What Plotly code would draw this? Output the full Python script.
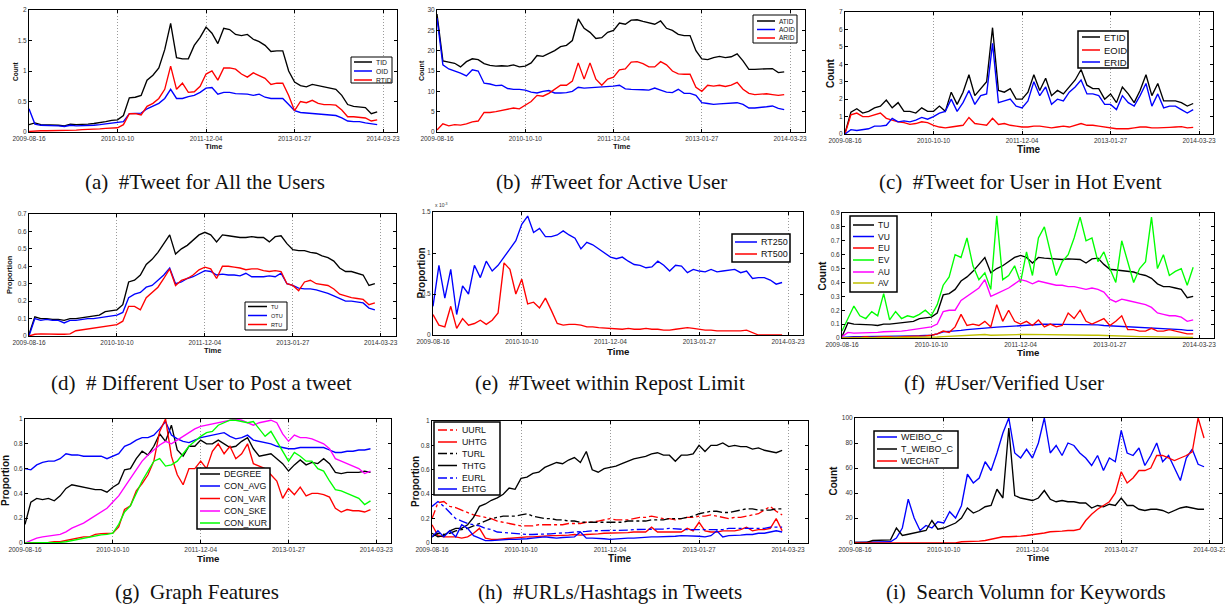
import plotly.graph_objects as go
import pandas as pd

W, H = 1225, 606
START = pd.Timestamp("2009-08-16")
STEP_DAYS = 28
TICKS = ["2009-08-16", "2010-10-10", "2011-12-04", "2013-01-27", "2014-03-23"]

# ---------------- data (sampled every 28 days from 2009-08-16) ----------------
a_TID = [0.12,0.15,0.12,0.12,0.11,0.11,0.10,0.13,0.12,0.12,
         0.13,0.14,0.15,0.17,0.19,0.20,0.27,0.56,0.57,0.60,
         0.85,0.93,1.05,1.35,1.78,1.22,1.20,1.20,1.42,1.55,
         1.72,1.62,1.45,1.70,1.68,1.60,1.58,1.60,1.52,1.48,
         1.42,1.32,1.33,1.33,1.00,0.82,0.76,0.74,0.78,0.76,
         0.74,0.73,0.70,0.60,0.45,0.42,0.41,0.40,0.30,0.33]
a_OID = [0.38,0.13,0.11,0.11,0.10,0.10,0.09,0.11,0.10,0.10,
         0.11,0.11,0.12,0.13,0.14,0.15,0.17,0.30,0.30,0.31,
         0.38,0.42,0.47,0.55,0.70,0.55,0.55,0.58,0.60,0.65,
         0.72,0.73,0.62,0.65,0.65,0.63,0.63,0.62,0.60,0.62,
         0.57,0.55,0.55,0.55,0.45,0.35,0.32,0.31,0.30,0.30,
         0.29,0.28,0.27,0.23,0.18,0.17,0.17,0.15,0.13,0.12]
a_RTID = [0.01,0.02,0.02,0.02,0.02,0.02,0.03,0.03,0.03,0.04,
          0.04,0.05,0.05,0.06,0.06,0.07,0.12,0.30,0.30,0.28,
          0.42,0.47,0.55,0.70,1.08,0.70,0.80,0.65,0.66,0.75,
          0.95,1.00,0.85,1.05,1.05,1.03,0.95,0.90,0.97,0.93,
          0.88,0.78,0.80,0.80,0.60,0.35,0.50,0.48,0.52,0.47,
          0.45,0.45,0.44,0.36,0.25,0.25,0.24,0.23,0.18,0.20]

b_ATID = [29.0,17.5,17.2,16.9,16.0,17.3,18.0,17.8,16.8,16.4,
          16.2,16.3,16.2,16.5,16.0,16.2,17.0,18.8,18.6,19.3,
          20.0,21.0,21.3,22.5,27.8,25.5,24.5,23.0,23.2,24.5,
          25.0,26.8,26.5,27.5,27.6,27.2,26.8,26.5,27.3,25.5,
          25.0,24.0,23.7,23.7,20.0,18.0,17.8,18.3,18.6,18.3,
          18.5,19.2,17.5,15.4,15.4,15.5,15.5,15.6,14.6,14.8]
b_AOID = [28.0,16.5,15.5,15.0,14.5,13.8,15.3,15.0,12.0,11.8,
          11.4,11.5,10.7,10.5,10.5,10.3,9.8,9.6,10.0,10.2,
          9.6,9.6,9.7,10.0,11.0,10.8,10.9,11.0,11.0,11.1,
          11.3,11.5,10.6,10.5,10.5,10.4,10.3,10.8,10.3,9.8,
          9.7,10.5,9.5,9.5,9.0,7.2,7.0,6.8,6.9,7.0,
          7.1,7.2,6.8,5.9,5.9,6.0,6.2,6.4,5.8,5.5]
b_ARID = [0.5,2.0,1.5,1.8,1.7,2.0,2.5,2.7,4.8,4.8,
          5.0,5.3,5.7,5.9,5.7,6.5,7.5,9.0,8.8,9.5,
          10.5,11.5,11.5,12.5,17.0,13.0,17.0,13.0,11.5,13.0,
          13.5,15.3,15.5,17.2,17.3,16.8,16.0,16.0,17.3,16.5,
          15.0,14.3,14.2,14.2,11.0,10.0,11.5,11.3,11.5,11.2,
          11.5,12.2,10.5,9.5,9.2,9.3,9.4,9.2,9.0,9.2]

c_ETID = [0.05,1.25,1.45,1.2,1.3,1.5,1.6,1.95,1.5,1.8,
          1.3,1.3,1.2,1.5,1.3,1.3,1.6,1.3,2.4,1.7,
          2.4,3.4,2.2,2.6,3.0,6.1,2.5,2.4,2.6,2.0,
          2.0,2.4,3.4,2.5,3.2,2.2,2.5,2.3,2.7,3.1,
          3.7,2.8,2.6,2.6,2.0,2.3,1.8,2.7,2.3,1.8,
          2.5,3.4,2.2,2.9,1.9,1.9,1.9,1.8,1.6,1.75]
c_EOID = [0.0,1.1,1.2,1.0,1.0,1.1,1.2,0.9,0.8,0.7,
          0.65,0.55,0.6,0.7,0.65,0.5,0.4,0.35,0.4,0.45,
          0.5,0.95,0.6,0.55,0.5,0.9,0.55,0.6,0.5,0.45,
          0.4,0.4,0.45,0.45,0.4,0.35,0.4,0.45,0.4,0.5,
          0.6,0.5,0.5,0.45,0.4,0.35,0.3,0.3,0.3,0.35,
          0.4,0.4,0.35,0.35,0.35,0.38,0.4,0.42,0.35,0.38]
c_ERID = [0.0,0.25,0.2,0.25,0.3,0.45,0.45,0.5,0.9,0.7,
          0.75,0.7,0.8,0.95,0.85,1.0,1.2,1.3,2.0,1.3,
          1.8,2.5,1.7,2.2,2.3,5.2,1.8,1.9,2.0,1.6,
          1.5,1.9,3.0,2.2,2.7,1.7,2.0,1.9,2.4,2.7,
          3.1,2.3,2.3,2.2,1.7,1.7,1.4,2.2,1.8,1.6,
          2.2,2.9,1.6,2.3,1.5,1.6,1.6,1.4,1.2,1.4]

d_TU = [0.01,0.11,0.10,0.10,0.095,0.095,0.09,0.10,0.10,0.105,
        0.11,0.115,0.12,0.14,0.145,0.15,0.18,0.31,0.32,0.35,
        0.41,0.44,0.48,0.53,0.58,0.47,0.50,0.52,0.55,0.58,
        0.595,0.58,0.54,0.58,0.575,0.57,0.565,0.565,0.57,0.565,
        0.565,0.54,0.57,0.575,0.53,0.495,0.49,0.49,0.48,0.475,
        0.46,0.45,0.43,0.39,0.37,0.37,0.36,0.35,0.29,0.30]
d_OTU = [0.0,0.10,0.09,0.095,0.09,0.09,0.075,0.09,0.09,0.095,
         0.10,0.10,0.105,0.11,0.115,0.12,0.135,0.22,0.24,0.25,
         0.28,0.29,0.32,0.35,0.39,0.30,0.31,0.33,0.34,0.36,
         0.375,0.37,0.35,0.355,0.35,0.35,0.345,0.36,0.34,0.34,
         0.34,0.345,0.34,0.36,0.30,0.29,0.275,0.27,0.27,0.265,
         0.255,0.245,0.23,0.215,0.20,0.20,0.195,0.19,0.16,0.15]
d_RTU = [0.0,0.01,0.012,0.01,0.01,0.01,0.01,0.012,0.03,0.035,
         0.04,0.045,0.05,0.055,0.06,0.065,0.085,0.17,0.17,0.15,
         0.22,0.25,0.28,0.33,0.385,0.29,0.32,0.33,0.35,0.38,
         0.395,0.385,0.33,0.40,0.40,0.395,0.39,0.38,0.385,0.385,
         0.375,0.37,0.375,0.37,0.30,0.29,0.26,0.31,0.32,0.30,
         0.295,0.29,0.27,0.24,0.23,0.22,0.215,0.21,0.18,0.19]

e_RT250 = [0.35,0.85,0.45,0.8,0.25,0.6,0.5,0.85,0.7,0.9,
           0.78,0.85,0.95,1.05,1.15,1.35,1.45,1.25,1.3,1.2,
           1.2,1.22,1.27,1.22,1.18,1.05,1.13,1.1,1.05,1.0,
           0.95,0.93,0.95,0.9,0.86,0.85,0.82,0.83,0.9,0.85,
           0.78,0.85,0.84,0.76,0.8,0.78,0.77,0.8,0.77,0.78,
           0.79,0.8,0.76,0.78,0.69,0.7,0.7,0.67,0.62,0.64]
e_RT500 = [0.25,0.12,0.1,0.35,0.08,0.2,0.12,0.14,0.18,0.13,
           0.18,0.27,0.88,0.8,0.5,0.68,0.38,0.4,0.33,0.45,
           0.3,0.14,0.12,0.13,0.13,0.12,0.1,0.1,0.09,0.085,
           0.08,0.07,0.07,0.08,0.07,0.07,0.08,0.07,0.07,0.06,
           0.06,0.07,0.08,0.09,0.08,0.07,0.06,0.06,0.05,0.05,
           0.05,0.05,0.05,0.06,0.03,0.0,0.0,0.0,0.0,0.0]

f_TU = [0.01,0.11,0.10,0.10,0.095,0.095,0.09,0.10,0.10,0.105,
        0.11,0.115,0.12,0.14,0.145,0.15,0.18,0.31,0.32,0.35,
        0.41,0.44,0.48,0.53,0.58,0.47,0.50,0.52,0.55,0.58,
        0.595,0.58,0.54,0.58,0.575,0.57,0.565,0.565,0.57,0.565,
        0.565,0.54,0.57,0.575,0.53,0.495,0.49,0.49,0.48,0.475,
        0.46,0.45,0.43,0.39,0.37,0.37,0.36,0.35,0.29,0.30]
f_VU = [0.005,0.01,0.01,0.01,0.01,0.012,0.012,0.012,0.013,0.013,
        0.014,0.014,0.015,0.016,0.017,0.02,0.03,0.045,0.048,0.05,
        0.055,0.06,0.065,0.07,0.075,0.075,0.078,0.08,0.082,0.085,
        0.09,0.092,0.095,0.097,0.1,0.1,0.1,0.1,0.1,0.1,
        0.1,0.098,0.097,0.095,0.09,0.088,0.085,0.083,0.08,0.078,
        0.075,0.073,0.07,0.068,0.065,0.063,0.062,0.06,0.055,0.055]
f_EU = [0.0,0.005,0.005,0.005,0.01,0.005,0.01,0.01,0.01,0.005,
        0.01,0.01,0.01,0.01,0.015,0.02,0.03,0.05,0.04,0.08,
        0.17,0.09,0.1,0.09,0.12,0.08,0.24,0.12,0.2,0.12,
        0.1,0.12,0.09,0.13,0.08,0.1,0.08,0.09,0.18,0.14,
        0.2,0.12,0.1,0.12,0.14,0.09,0.12,0.16,0.06,0.06,
        0.05,0.05,0.07,0.05,0.05,0.06,0.05,0.04,0.03,0.03]
f_EV = [0.05,0.14,0.23,0.16,0.14,0.19,0.16,0.32,0.13,0.19,
        0.14,0.16,0.15,0.17,0.2,0.16,0.24,0.38,0.44,0.6,
        0.58,0.72,0.52,0.42,0.47,0.35,0.88,0.42,0.45,0.52,
        0.4,0.62,0.45,0.72,0.8,0.62,0.45,0.55,0.6,0.72,
        0.87,0.7,0.72,0.55,0.62,0.5,0.4,0.7,0.55,0.4,
        0.5,0.55,0.87,0.5,0.6,0.45,0.48,0.5,0.38,0.51]
f_AU = [0.01,0.04,0.035,0.035,0.035,0.04,0.04,0.045,0.045,0.05,
        0.05,0.055,0.06,0.065,0.07,0.08,0.1,0.19,0.2,0.2,
        0.27,0.3,0.33,0.36,0.42,0.3,0.32,0.34,0.36,0.39,
        0.42,0.41,0.39,0.41,0.4,0.39,0.38,0.38,0.37,0.37,
        0.36,0.35,0.36,0.35,0.33,0.28,0.26,0.28,0.27,0.26,
        0.25,0.24,0.22,0.18,0.17,0.16,0.16,0.15,0.12,0.13]
f_AV = [0.0,0.002,0.002,0.002,0.003,0.003,0.003,0.003,0.003,0.003,
        0.004,0.004,0.004,0.004,0.005,0.005,0.007,0.01,0.012,0.013,
        0.015,0.017,0.018,0.02,0.025,0.02,0.02,0.021,0.022,0.023,
        0.025,0.026,0.025,0.026,0.025,0.025,0.024,0.024,0.023,0.022,
        0.022,0.021,0.02,0.02,0.018,0.015,0.013,0.012,0.012,0.011,
        0.01,0.01,0.009,0.008,0.008,0.007,0.007,0.006,0.005,0.005]

g_DEGREE = [0.15,0.33,0.36,0.35,0.36,0.34,0.38,0.44,0.47,0.46,
            0.45,0.44,0.43,0.43,0.41,0.45,0.48,0.59,0.6,0.68,
            0.74,0.71,0.78,0.88,0.82,0.95,0.75,0.7,0.78,0.78,
            0.83,0.8,0.8,0.83,0.8,0.77,0.78,0.82,0.85,0.76,
            0.7,0.71,0.72,0.68,0.64,0.58,0.63,0.67,0.63,0.65,
            0.64,0.68,0.64,0.57,0.56,0.57,0.57,0.57,0.58,0.57]
g_CON_AVG = [0.6,0.59,0.63,0.65,0.66,0.66,0.68,0.72,0.71,0.71,
             0.7,0.7,0.7,0.7,0.68,0.7,0.72,0.78,0.8,0.83,
             0.85,0.85,0.87,0.92,0.98,0.87,0.84,0.82,0.81,0.83,
             0.85,0.86,0.87,0.88,0.89,0.86,0.84,0.85,0.87,0.83,
             0.82,0.81,0.8,0.78,0.77,0.76,0.76,0.77,0.77,0.77,
             0.77,0.77,0.75,0.73,0.73,0.74,0.74,0.75,0.75,0.76]
g_CON_VAR = [0.0,0.0,0.0,0.005,0.005,0.01,0.01,0.02,0.03,0.04,
             0.05,0.05,0.07,0.075,0.075,0.08,0.13,0.27,0.3,0.42,
             0.48,0.55,0.66,0.9,1.0,0.7,0.55,0.47,0.6,0.6,
             0.66,0.6,0.74,0.8,0.72,0.78,0.68,0.72,0.8,0.64,
             0.62,0.6,0.55,0.5,0.36,0.44,0.39,0.45,0.38,0.4,
             0.4,0.39,0.37,0.28,0.25,0.27,0.26,0.26,0.25,0.27]
g_CON_SKE = [0.0,0.02,0.04,0.05,0.055,0.06,0.07,0.09,0.12,0.14,
             0.16,0.19,0.22,0.25,0.28,0.33,0.38,0.45,0.52,0.6,
             0.66,0.71,0.75,0.79,0.82,0.8,0.83,0.86,0.89,0.92,
             0.94,0.95,0.96,0.97,0.98,0.99,1.0,0.99,0.97,0.95,
             0.97,0.98,0.99,0.97,0.88,0.82,0.87,0.85,0.85,0.84,
             0.82,0.8,0.76,0.68,0.66,0.64,0.62,0.6,0.56,0.58]
g_CON_KUR = [0.0,0.0,0.0,0.0,0.0,0.005,0.005,0.01,0.02,0.03,
             0.04,0.05,0.06,0.065,0.07,0.08,0.15,0.25,0.3,0.4,
             0.5,0.58,0.66,0.68,0.62,0.63,0.66,0.72,0.78,0.82,
             0.86,0.89,0.9,0.95,0.97,0.99,0.99,0.98,0.97,0.98,
             0.92,0.86,0.9,0.82,0.74,0.66,0.73,0.7,0.66,0.66,
             0.6,0.58,0.5,0.43,0.42,0.4,0.38,0.36,0.31,0.34]

h_UURL = [0.2,0.33,0.34,0.3,0.29,0.27,0.25,0.23,0.22,0.21,
          0.2,0.18,0.17,0.16,0.15,0.14,0.14,0.14,0.15,0.15,
          0.15,0.15,0.15,0.16,0.16,0.16,0.17,0.17,0.18,0.19,
          0.2,0.19,0.19,0.19,0.2,0.21,0.21,0.22,0.21,0.2,
          0.2,0.19,0.2,0.21,0.21,0.22,0.22,0.23,0.22,0.21,
          0.2,0.21,0.21,0.22,0.23,0.24,0.27,0.3,0.26,0.23]
h_UHTG = [0.15,0.06,0.05,0.05,0.05,0.04,0.05,0.08,0.12,0.04,
          0.03,0.03,0.035,0.04,0.045,0.05,0.05,0.05,0.055,0.06,
          0.06,0.06,0.06,0.065,0.07,0.065,0.07,0.07,0.075,0.08,
          0.08,0.085,0.08,0.085,0.09,0.09,0.09,0.13,0.09,0.09,
          0.09,0.09,0.09,0.12,0.1,0.17,0.1,0.09,0.09,0.1,
          0.1,0.1,0.11,0.13,0.1,0.11,0.11,0.12,0.2,0.1]
h_TURL = [0.05,0.08,0.07,0.08,0.1,0.11,0.12,0.14,0.16,0.18,
          0.2,0.21,0.22,0.22,0.22,0.23,0.24,0.22,0.21,0.2,
          0.2,0.19,0.19,0.18,0.18,0.17,0.17,0.17,0.17,0.17,
          0.17,0.17,0.17,0.18,0.18,0.18,0.18,0.19,0.19,0.19,
          0.2,0.2,0.2,0.21,0.22,0.24,0.25,0.26,0.26,0.25,
          0.25,0.26,0.27,0.28,0.28,0.27,0.27,0.27,0.28,0.28]
h_THTG = [0.08,0.05,0.06,0.1,0.12,0.12,0.15,0.21,0.3,0.32,
          0.35,0.37,0.4,0.45,0.44,0.53,0.54,0.57,0.58,0.62,
          0.64,0.66,0.65,0.68,0.7,0.66,0.75,0.6,0.58,0.61,
          0.62,0.63,0.65,0.67,0.69,0.7,0.71,0.73,0.74,0.72,
          0.72,0.67,0.72,0.72,0.73,0.8,0.75,0.8,0.8,0.82,
          0.79,0.8,0.79,0.79,0.77,0.78,0.76,0.75,0.74,0.76]
h_EURL = [0.3,0.34,0.3,0.25,0.2,0.18,0.16,0.15,0.14,0.12,
          0.11,0.09,0.085,0.08,0.075,0.07,0.07,0.07,0.07,0.07,
          0.075,0.08,0.08,0.085,0.09,0.09,0.095,0.1,0.1,0.1,
          0.1,0.1,0.1,0.105,0.11,0.11,0.11,0.11,0.11,0.115,
          0.12,0.115,0.11,0.11,0.11,0.11,0.11,0.11,0.11,0.11,
          0.12,0.12,0.12,0.12,0.12,0.12,0.12,0.13,0.13,0.13]
h_EHTG = [0.05,0.1,0.05,0.1,0.05,0.15,0.12,0.06,0.04,0.02,
          0.02,0.025,0.03,0.03,0.03,0.03,0.035,0.04,0.045,0.05,
          0.045,0.04,0.045,0.05,0.05,0.09,0.04,0.04,0.04,0.035,
          0.03,0.035,0.04,0.04,0.04,0.045,0.045,0.05,0.05,0.05,
          0.05,0.055,0.06,0.06,0.06,0.055,0.05,0.06,0.1,0.05,
          0.06,0.06,0.065,0.07,0.07,0.08,0.08,0.09,0.1,0.09]

i_WEIBO_C = [0.5,0.5,0.5,0.5,0.5,0.5,1,4,12,35,
             20,10,14,12,17,16,25,20,30,55,
             48,52,65,58,72,88,100,72,68,75,
             68,80,100,72,78,70,80,78,72,68,
             62,70,58,68,65,90,72,70,76,62,
             70,80,65,70,60,50,68,75,63,61]
i_T_WEIBO_C = [0.5,0.5,0.5,2,2,2,2.5,12,6,7,
               8,9,10,18,11,12,14,16,20,28,
               24,26,29,30,43,36,92,38,36,35,
               34,36,42,35,33,34,33,33,32,32,
               28,30,29,31,30,36,30,30,27,26,
               27,27,26,24,26,28,29,28,27,27]
i_WECHAT = [0,0,0,0,0,0,0,0,0,0,
            0,0,0,0,0,0,0,0,1,1,
            1,1.5,2,3,4,5,5,5,5.5,6,
            6.5,7.5,8,9,9,9.5,10,10,11,18,
            23,27,30,33,40,57,48,52,58,58,
            60,70,70,68,66,68,70,73,100,84]

# ---------------- styling ----------------
BLACK, BLUE, RED, GREEN, MAG, OLIVE = "#000000", "#0000ff", "#ff0000", "#00ff00", "#ff00ff", "#bfbf00"
SANS = "Liberation Sans, Arial, sans-serif"
SERIF = "Liberation Serif, Times New Roman, serif"

panels = [
    dict(series=[("TID", a_TID, BLACK, "solid"), ("OID", a_OID, BLUE, "solid"), ("RTID", a_RTID, RED, "solid")],
         box=(29, 397, 10, 132), xend=1746, yr=[0, 2], dtick=0.5, ylabel="Count", ylx=15, ts=7.5, ys=6.5, timey=146,
         leg=dict(box=(351, 392, 57, 83), rows=[62, 71, 80], lx=(354, 372), tx=374, fs=6.8, bw=1),
         cap="(a)\u2002#Tweet for All the Users", capxy=(205, 182)),
    dict(series=[("ATID", b_ATID, BLACK, "solid"), ("AOID", b_AOID, BLUE, "solid"), ("ARID", b_ARID, RED, "solid")],
         box=(437, 805, 10, 132), xend=1751, yr=[0, 30], dtick=5, ylabel="Count", ylx=421, ts=7.5, ys=7, timey=146,
         leg=dict(box=(753, 797, 15, 43), rows=[21, 29.5, 38], lx=(757, 775), tx=777, fs=6.5, bw=1),
         cap="(b)\u2002#Tweet for Active User", capxy=(611, 182)),
    dict(series=[("ETID", c_ETID, BLACK, "solid"), ("EOID", c_EOID, RED, "solid"), ("ERID", c_ERID, BLUE, "solid")],
         box=(845, 1213, 12, 134), xend=1746, yr=[0, 7], dtick=1, ylabel="Count", ylx=831, ts=10, ys=10, timey=149,
         leg=dict(box=(1078, 1128, 31, 68), rows=[37, 50, 62], lx=(1082, 1100), tx=1102, fs=9.5, bw=1.5),
         cap="(c)\u2002#Tweet for User in Hot Event", capxy=(1020, 182)),
    dict(series=[("TU", d_TU, BLACK, "solid"), ("OTU", d_OTU, BLUE, "solid"), ("RTU", d_RTU, RED, "solid")],
         box=(29, 396, 214, 336), xend=1753, yr=[0, 0.7], dtick=0.1, ylabel="Proportion", ylx=9, ts=7.5, ys=7.5, timey=350,
         leg=dict(box=(245, 287, 302, 330), rows=[306.5, 315.5, 324.5], lx=(248, 267), tx=269, fs=5.5, bw=1),
         cap="(d)\u2002# Different User to Post a tweet", capxy=(201, 383)),
    dict(series=[("RT250", e_RT250, BLUE, "solid"), ("RT500", e_RT500, RED, "solid")],
         box=(433, 803, 212, 335), xend=1751, yr=[0, 1.5], dtick=0.5, ylabel="Proportion", ylx=421, ts=9.7, ys=10, timey=351,
         leg=dict(box=(732, 790, 234, 262), rows=[242, 254], lx=(735, 757), tx=759, fs=9, bw=1.5),
         cap="(e)\u2002#Tweet within Repost Limit", capxy=(610, 383)),
    dict(series=[("TU", f_TU, BLACK, "solid"), ("VU", f_VU, BLUE, "solid"), ("EU", f_EU, RED, "solid"),
                 ("EV", f_EV, GREEN, "solid"), ("AU", f_AU, MAG, "solid"), ("AV", f_AV, OLIVE, "solid")],
         box=(842, 1214, 213, 338), xend=1750, yr=[0, 0.9], dtick=0.1, ylabel="Count", ylx=822, ts=9.7, ys=10, timey=352,
         leg=dict(box=(850, 897, 216, 292), rows=[225, 236.5, 248, 260, 272, 283], lx=(853, 874), tx=876, fs=8.5, bw=1.5),
         cap="(f)\u2002#User/Verified User", capxy=(1004, 383)),
    dict(series=[("DEGREE", g_DEGREE, BLACK, "solid"), ("CON_AVG", g_CON_AVG, BLUE, "solid"), ("CON_VAR", g_CON_VAR, RED, "solid"),
                 ("CON_SKE", g_CON_SKE, MAG, "solid"), ("CON_KUR", g_CON_KUR, GREEN, "solid")],
         box=(25, 391, 419, 543), xend=1750, yr=[0, 1], dtick=0.2, ylabel="Proportion", ylx=5, ts=9.7, ys=10, timey=558,
         leg=dict(box=(197, 270, 468, 529), rows=[474, 486, 498.5, 511, 523], lx=(200, 220), tx=222, fs=8.8, bw=1.5),
         cap="(g)\u2002Graph Features", capxy=(197, 592)),
    dict(series=[("UURL", h_UURL, RED, "dashdot"), ("UHTG", h_UHTG, RED, "solid"), ("TURL", h_TURL, BLACK, "dashdot"),
                 ("THTG", h_THTG, BLACK, "solid"), ("EURL", h_EURL, BLUE, "dashdot"), ("EHTG", h_EHTG, BLUE, "solid")],
         box=(432, 808, 421, 543), xend=1774, yr=[0, 1], dtick=0.2, ylabel="Proportion", ylx=415, ts=10, ys=10, timey=558,
         leg=dict(box=(434, 500, 422, 495), rows=[430, 442, 453.5, 465.5, 478, 489], lx=(438, 457), tx=460, fs=8.8, bw=1.5),
         cap="(h)\u2002#URLs/Hashtags in Tweets", capxy=(610, 592)),
    dict(series=[("WEIBO_C", i_WEIBO_C, BLUE, "solid"), ("T_WEIBO_C", i_T_WEIBO_C, BLACK, "solid"), ("WECHAT", i_WECHAT, RED, "solid")],
         box=(855, 1222, 418, 543), xend=1737, yr=[0, 100], dtick=20, ylabel="Count", ylx=833, ts=9.7, ys=10, timey=557,
         leg=dict(box=(874, 958, 431, 468), rows=[437, 449, 461], lx=(877, 897), tx=899, fs=9, bw=1.5),
         cap="(i)\u2002Search Volumn for Keywords", capxy=(1026, 592)),
]


def fx(px):
    return px / W


def fy(py):
    return 1 - py / H


def dates(n):
    return [START + pd.Timedelta(days=STEP_DAYS * k) for k in range(n)]


fig = go.Figure()
layout = {}
shapes = []
annotations = []

for idx, p in enumerate(panels):
    n = idx + 1
    xa = "x" if n == 1 else f"x{n}"
    ya = "y" if n == 1 else f"y{n}"
    xkey = "xaxis" if n == 1 else f"xaxis{n}"
    ykey = "yaxis" if n == 1 else f"yaxis{n}"
    for name, vals, color, dash in p["series"]:
        fig.add_trace(go.Scatter(x=dates(len(vals)), y=vals, mode="lines", name=name,
                                 line=dict(color=color, width=1.35, dash=dash),
                                 xaxis=xa, yaxis=ya, showlegend=False))
    l, r, t, b = p["box"]
    end = START + pd.Timedelta(days=p["xend"])
    layout[xkey] = dict(domain=[fx(l), fx(r)], anchor=ya, type="date", automargin=False,
                        range=[START.strftime("%Y-%m-%d"), end.strftime("%Y-%m-%d")],
                        tickmode="array", tickvals=TICKS, ticktext=TICKS, ticklabeloverflow="allow",
                        ticks="inside", ticklen=3, tickcolor="black", mirror="allticks",
                        showline=True, linecolor="black", linewidth=1,
                        showgrid=True, griddash="1px,2px", gridcolor="#9a9a9a", gridwidth=1,
                        zeroline=False, tickfont=dict(family=SANS, size=6.5, color="#333"))
    layout[ykey] = dict(domain=[fy(b), fy(t)], anchor=xa, range=p["yr"], dtick=p["dtick"], tick0=0,
                        automargin=False, ticks="inside", ticklen=3, tickcolor="black", mirror="allticks",
                        showline=True, linecolor="black", linewidth=1, showgrid=False, zeroline=False,
                        ticklabeloverflow="allow",
                        tickfont=dict(family=SANS, size=6.5, color="#333"))
    # axis titles
    annotations.append(dict(text="<b>Time</b>", x=fx((l + r) / 2), y=fy(p["timey"]), xref="paper", yref="paper",
                            showarrow=False, xanchor="center", yanchor="middle",
                            font=dict(family=SANS, size=p["ts"], color="#111")))
    annotations.append(dict(text=f"<b>{p['ylabel']}</b>", x=fx(p["ylx"]), y=fy((t + b) / 2), xref="paper", yref="paper",
                            showarrow=False, xanchor="center", yanchor="middle", textangle=-90,
                            font=dict(family=SANS, size=p["ys"], color="#111")))
    # caption
    annotations.append(dict(text=p["cap"], x=fx(p["capxy"][0]), y=fy(p["capxy"][1]), xref="paper", yref="paper",
                            showarrow=False, xanchor="center", yanchor="middle",
                            font=dict(family=SERIF, size=21, color="#111")))
    # custom legend
    lg = p["leg"]
    bl, br, bt, bb = lg["box"]
    shapes.append(dict(type="rect", xref="paper", yref="paper", x0=fx(bl), x1=fx(br), y0=fy(bb), y1=fy(bt),
                       line=dict(color="black", width=lg["bw"]), fillcolor="white", layer="above"))
    for (name, vals, color, dash), ry in zip(p["series"], lg["rows"]):
        shapes.append(dict(type="line", xref="paper", yref="paper", x0=fx(lg["lx"][0]), x1=fx(lg["lx"][1]),
                           y0=fy(ry), y1=fy(ry), line=dict(color=color, width=1.5, dash=dash), layer="above"))
        annotations.append(dict(text=name, x=fx(lg["tx"]), y=fy(ry), xref="paper", yref="paper",
                                showarrow=False, xanchor="left", yanchor="middle",
                                font=dict(family=SANS, size=lg["fs"], color="#111")))

# exponent label of panel (e)
annotations.append(dict(text="x 10<sup>-3</sup>", x=fx(433), y=fy(205), xref="paper", yref="paper",
                        showarrow=False, xanchor="left", yanchor="middle",
                        font=dict(family=SANS, size=5, color="#333")))

fig.update_layout(template="none", width=W, height=H, margin=dict(l=0, r=0, t=0, b=0, pad=0),
                  paper_bgcolor="white", plot_bgcolor="white", autosize=False,
                  shapes=shapes, annotations=annotations, showlegend=False, **layout)

fig.write_html("out.html", config={"displayModeBar": False},
               post_script="document.body.style.margin='0';document.body.style.overflow='hidden';")
